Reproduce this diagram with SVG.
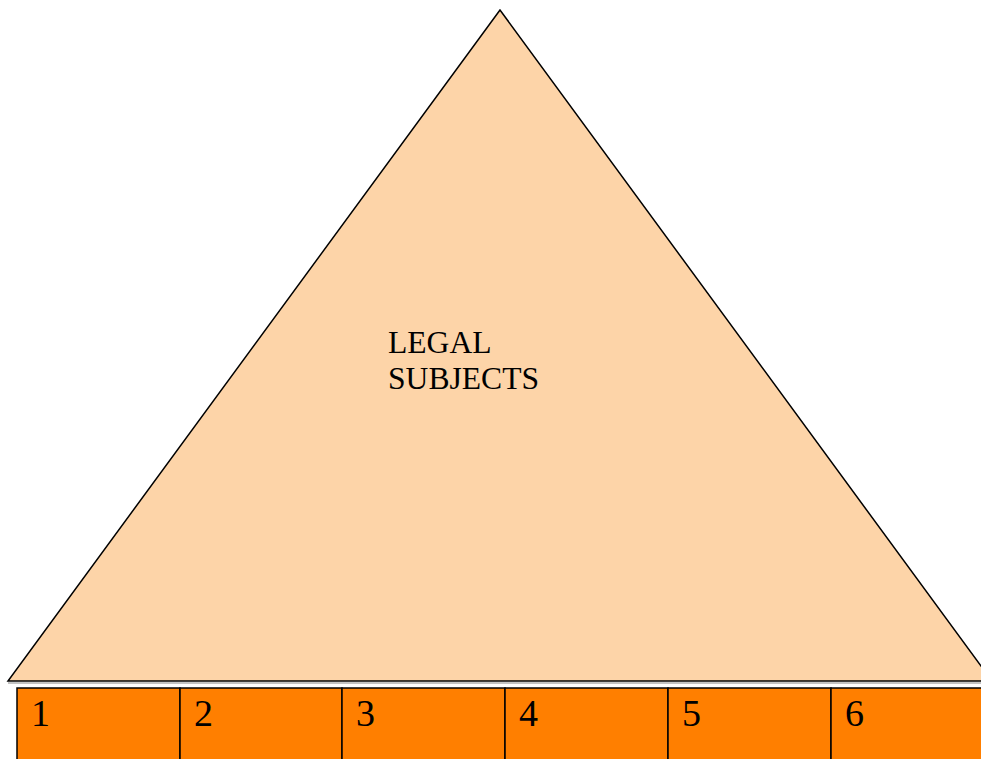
<svg xmlns="http://www.w3.org/2000/svg" width="981" height="759" viewBox="0 0 981 759">
<style>
.tri{fill:#FDD4A8;stroke:#000;stroke-width:1.5}
.cell{fill:#FF7F00;stroke:#000;stroke-width:1.5}
.t{font-family:"Liberation Serif","Times New Roman",serif;fill:#000}
.num{font-size:38px}
.lbl{font-size:31.6px}
</style>
<rect width="981" height="759" fill="#fff"/>
<g id="triangle">
<polygon class="tri" points="500,10 8,681 992,681"/>
<line x1="8" y1="683" x2="981" y2="683" stroke="#888" stroke-width="1"/>
<text class="t lbl" x="388" y="353">LEGAL</text>
<text class="t lbl" x="388" y="389">SUBJECTS</text>
</g>
<g id="cell1"><rect class="cell" x="17" y="688" width="163" height="80"/><text class="t num" x="31" y="726">1</text></g>
<g id="cell2"><rect class="cell" x="180" y="688" width="162" height="80"/><text class="t num" x="194" y="726">2</text></g>
<g id="cell3"><rect class="cell" x="342" y="688" width="163" height="80"/><text class="t num" x="356" y="726">3</text></g>
<g id="cell4"><rect class="cell" x="505" y="688" width="163" height="80"/><text class="t num" x="519" y="726">4</text></g>
<g id="cell5"><rect class="cell" x="668" y="688" width="163" height="80"/><text class="t num" x="682" y="726">5</text></g>
<g id="cell6"><rect class="cell" x="831" y="688" width="163" height="80"/><text class="t num" x="845" y="726">6</text></g>
</svg>
